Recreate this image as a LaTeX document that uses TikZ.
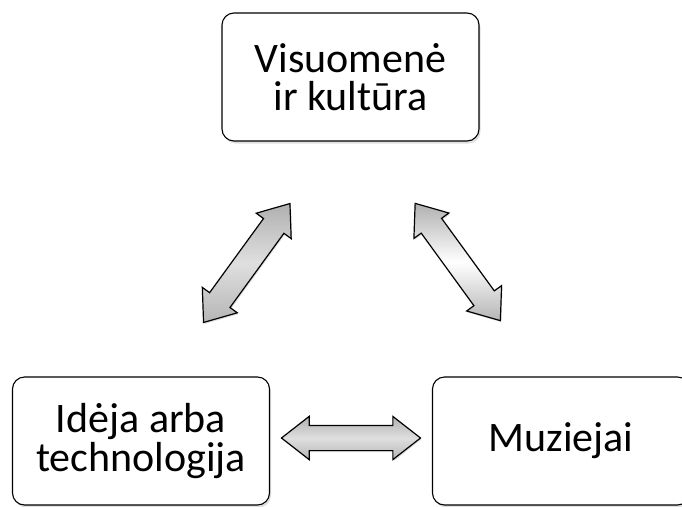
\documentclass[tikz,border=0pt]{standalone}
\usepackage{fontspec}
\setmainfont{Carlito}
\usetikzlibrary{shapes,arrows,shadows}
\usetikzlibrary{calc,positioning}

\tikzset{
  topic/.style={draw=black, line width=1.1pt, rounded corners=12pt, fill=white,
    minimum width=\boxW pt, minimum height=\boxH pt, align=center,
    font=\fontsize{42}{38.5}\selectfont,
    drop shadow={opacity=0.25, shadow xshift=1.5pt, shadow yshift=-2.5pt}},
  linkarrow/.style={double arrow, draw=black, line width=1.2pt, inner sep=0pt,
    minimum width=0pt, text width=0pt, text height=12pt, text depth=12pt,
    minimum height=#1, double arrow head extend=9pt,
    double arrow tip angle=76, shading=axis, top color=gray!62,
    bottom color=gray!58, middle color=gray!25,
    drop shadow={opacity=0.25, shadow xshift=1pt, shadow yshift=-1.5pt}},
  lightarrow/.style={linkarrow=#1, middle color=white}
}

\begin{document}
\begin{tikzpicture}[x=1pt,y=-1pt]

\def\boxW{257}
\def\boxH{128}

\useasboundingbox (0,0) rectangle (682,506);
\clip (0,0) rectangle (682,506);

% the three topics
\node[topic] (society) at (350.5,77) {Visuomenė\\ir kultūra};
\node[topic] (idea) at (141,441) {Idėja arba\\technologija};
\node[topic] (museums) at (561,441) {Muziejai};

% the links between them
\node[linkarrow=147pt, rotate=54] (ideaSociety)
  at ($(society.south west)!0.5!(idea.north east)+(1,4)$) {};
\node[lightarrow=145pt, rotate=-54] (societyMuseums)
  at ($(society.south east)!0.5!(museums.north west)+(2,3)$) {};
\node[linkarrow=139pt] (ideaMuseums)
  at ($(idea.east)!0.5!(museums.west)+(0,-3)$) {};

\end{tikzpicture}
\end{document}
